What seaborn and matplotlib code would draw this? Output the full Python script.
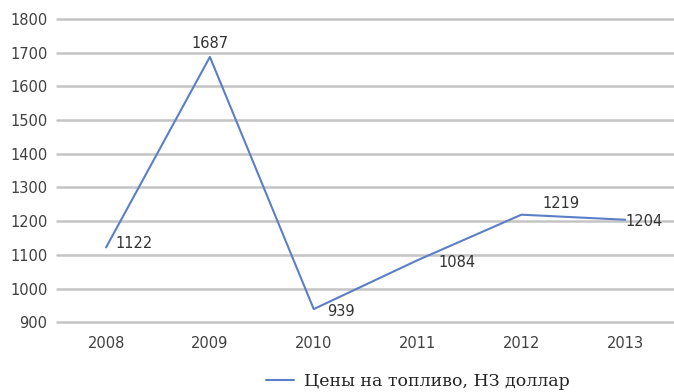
import matplotlib
matplotlib.use("Agg")
import matplotlib.pyplot as plt
import seaborn as sns
import pandas as pd

years = ["2008", "2009", "2010", "2011", "2012", "2013"]
prices = [1122, 1687, 939, 1084, 1219, 1204]
series_name = "Цены на топливо, НЗ доллар"
y_ticks = [900, 1000, 1100, 1200, 1300, 1400, 1500, 1600, 1700, 1800]

sns.set_theme(style="white")
plt.rcParams['font.family'] = ['DejaVu Sans']

df = pd.DataFrame({"year": years, "price": prices, "series": series_name})

fig = plt.figure(figsize=(6.74, 3.92), dpi=100)
ax = fig.add_axes([0.085, 0.178, 0.915, 0.774])

sns.lineplot(data=df, x="year", y="price", hue="series", palette=["#5b7fc7"],
             linewidth=1.5, ax=ax, sort=False, legend=True)

ax.set_ylim(900, 1800)
ax.set_xlim(-0.47, 5.47)
ax.set_yticks(y_ticks)
ax.set_yticklabels([str(t) for t in y_ticks])
ax.yaxis.grid(True, color="#c4c4c4", linewidth=1.8)
for gl in ax.get_ygridlines():
    gl.set_clip_on(False)
ax.set_axisbelow(True)
for s in ax.spines.values():
    s.set_visible(False)
ax.set_xlabel("")
ax.set_ylabel("")
ax.tick_params(axis="both", labelsize=10.5, colors="#404040", length=0)
ax.tick_params(axis="x", pad=10)
ax.tick_params(axis="y", pad=7)

offsets = [(7, 3, "left", "center"), (0, 10, "center", "center"),
           (10, -1.5, "left", "center"), (15, -1.5, "left", "center"),
           (15, 8, "left", "center"), (0, -1, "left", "center")]
for i, (v, (dx, dy, ha, va)) in enumerate(zip(prices, offsets)):
    ax.annotate(str(v), (i, v), xytext=(dx, dy), textcoords="offset points",
                ha=ha, va=va, fontsize=10.5, color="#333333")

leg = ax.legend(loc="lower center", bbox_to_anchor=(0.585, -0.275), frameon=False,
                handlelength=1.6, handletextpad=0.6, fontsize=12.5)
for t in leg.get_texts():
    t.set_family(["DejaVu Serif"])
    t.set_color("#222222")

fig.savefig("out.png", dpi=100)
